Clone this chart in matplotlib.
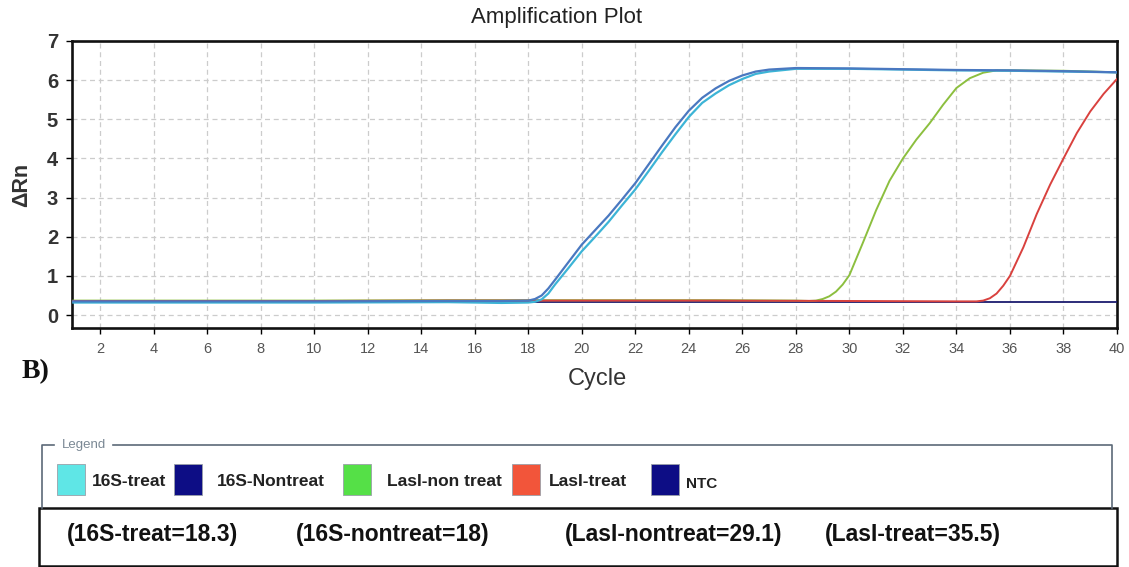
import matplotlib
matplotlib.use("Agg")
import matplotlib.pyplot as plt
from matplotlib.patches import Rectangle
from matplotlib.lines import Line2D

plt.rcParams['font.family'] = ['Liberation Sans', 'DejaVu Sans']

# ---- amplification data (cycle, delta Rn) ----
s16_nontreat_cycles = [1, 5, 10, 15, 17, 18, 18.25, 18.5, 18.75, 19, 19.5, 20, 20.5, 21, 21.5,
                       22, 22.5, 23, 23.5, 24, 24.5, 25, 25.5, 26, 26.5, 27, 28, 30, 32, 34,
                       36, 38, 40]
s16_nontreat_rn = [0.35, 0.35, 0.35, 0.36, 0.36, 0.37, 0.41, 0.50, 0.68, 0.90, 1.35, 1.80,
                   2.17, 2.54, 2.95, 3.37, 3.85, 4.33, 4.80, 5.22, 5.55, 5.79, 5.98, 6.12,
                   6.22, 6.27, 6.31, 6.30, 6.28, 6.26, 6.25, 6.23, 6.20]

s16_treat_cycles = s16_nontreat_cycles
s16_treat_rn = [0.32, 0.32, 0.32, 0.33, 0.31, 0.32, 0.34, 0.40, 0.55, 0.78, 1.20, 1.63, 2.00,
                2.38, 2.80, 3.21, 3.68, 4.16, 4.62, 5.06, 5.42, 5.66, 5.87, 6.03, 6.16, 6.22,
                6.29, 6.29, 6.27, 6.25, 6.24, 6.22, 6.20]

lasi_nontreat_cycles = [1, 5, 10, 15, 20, 25, 28, 28.5, 28.75, 29, 29.25, 29.5, 29.75, 30,
                        30.5, 31, 31.5, 32, 32.5, 33, 33.5, 34, 34.5, 35, 35.5, 36, 38, 40]
lasi_nontreat_rn = [0.37, 0.37, 0.37, 0.38, 0.38, 0.38, 0.37, 0.36, 0.37, 0.41, 0.48, 0.60,
                    0.78, 1.02, 1.84, 2.68, 3.43, 4.00, 4.48, 4.90, 5.37, 5.80, 6.05, 6.19,
                    6.25, 6.25, 6.24, 6.20]

lasi_treat_cycles = [1, 5, 10, 15, 20, 25, 30, 34, 34.75, 35, 35.25, 35.5, 35.75, 36, 36.5,
                     37, 37.5, 38, 38.5, 39, 39.5, 40]
lasi_treat_rn = [0.36, 0.36, 0.36, 0.37, 0.37, 0.37, 0.36, 0.35, 0.35, 0.37, 0.43, 0.55, 0.75,
                 1.00, 1.73, 2.58, 3.33, 4.00, 4.65, 5.20, 5.65, 6.03]

ntc_cycles = [1, 40]
ntc_rn = [0.34, 0.34]

# ---- legend entries and Ct values ----
legend_names = ['16S-treat', '16S-Nontreat', 'LasI-non treat', 'LasI-treat', 'NTC']
legend_swatch_colors = ['#5fe6e6', '#0d0d85', '#55e047', '#f2553a', '#0d0d85']
ct_names = ['16S-treat', '16S-nontreat', 'LasI-nontreat', 'LasI-treat']
ct_values = ['18.3', '18', '29.1', '35.5']

x_ticks = list(range(2, 41, 2))
y_ticks = list(range(0, 8))

W, H = 1129, 567
fig = plt.figure(figsize=(W / 100, H / 100), dpi=100)
fig.patch.set_facecolor('white')


def px_box(left, top, right, bottom):
    return [left / W, 1 - bottom / H, (right - left) / W, (bottom - top) / H]


ax = fig.add_axes(px_box(72, 41, 1117, 328))

ax.plot(ntc_cycles, ntc_rn, color='#1b1b6e', lw=1.3, zorder=3)
ax.plot(lasi_nontreat_cycles, lasi_nontreat_rn, color='#8cbf3f', lw=1.4, zorder=4)
ax.plot(lasi_treat_cycles, lasi_treat_rn, color='#d9413e', lw=1.4, zorder=5)
ax.plot(s16_treat_cycles, s16_treat_rn, color='#3cb4d6', lw=1.6, zorder=6)
ax.plot(s16_nontreat_cycles, s16_nontreat_rn, color='#4a78c0', lw=1.6, zorder=7)

ax.set_xlim(0.95, 40)
ax.set_ylim(-0.33, 7.0)
ax.set_xticks(x_ticks)
ax.set_yticks(y_ticks)
ax.grid(True, color='#cccccc', linestyle=(0, (4, 3)), lw=0.9)
ax.set_axisbelow(True)
for sp in ax.spines.values():
    sp.set_linewidth(1.9)
    sp.set_color('#111111')
ax.tick_params(axis='x', length=4, width=1, pad=6, labelsize=10.5, labelcolor='#555555')
ax.tick_params(axis='y', length=4, width=1, pad=6, labelsize=14.5, labelcolor='#333333')
for lab in ax.get_yticklabels():
    lab.set_fontweight('bold')

fig.text(557 / W, 1 - 17 / H, 'Amplification Plot', ha='center', va='center',
         fontsize=16, color='#222222')
fig.text(22 / W, 1 - 185 / H, 'ΔRn', ha='center', va='center', rotation=90,
         fontsize=15.5, fontweight='bold', color='#333333')
fig.text(597 / W, 1 - 379 / H, 'Cycle', ha='center', va='center', fontsize=17,
         color='#333333')
fig.text(36 / W, 1 - 372 / H, 'B)', ha='center', va='center', fontsize=20,
         fontweight='bold', family=['Liberation Serif', 'DejaVu Serif'], color='#111111')

# ---- legend panel drawn in pixel coordinates ----
lg = fig.add_axes([0, 0, 1, 1], zorder=10)
lg.set_xlim(0, W)
lg.set_ylim(H, 0)
lg.axis('off')
lg.patch.set_alpha(0)

frame_col = '#5c6a78'
lg.add_line(Line2D([42, 42, 54], [508, 445, 445], color=frame_col, lw=1.2))
lg.add_line(Line2D([113, 1112, 1112], [445, 445, 508], color=frame_col, lw=1.2))
lg.text(84, 445, 'Legend', ha='center', va='center', fontsize=9.5, color='#7a8894')

swatch_left = [57, 174, 343, 512, 651]
label_left = [92, 217, 387, 549, 686]
for i, name in enumerate(legend_names):
    lg.add_patch(Rectangle((swatch_left[i], 464), 28, 31,
                           facecolor=legend_swatch_colors[i], edgecolor='#9aa0a8', lw=0.6))
    lg.text(label_left[i], 481 if name != 'NTC' else 484, name, ha='left', va='center',
            fontsize=12.5 if name != 'NTC' else 11, fontweight='bold', color='#222222')

lg.add_patch(Rectangle((39, 508), 1078, 58, facecolor='white', edgecolor='#111111', lw=1.8))
ct_left = [67, 296, 565, 825]
for i, (nm, v) in enumerate(zip(ct_names, ct_values)):
    lg.text(ct_left[i], 534, f'({nm}={v})', ha='left', va='center', fontsize=16.5,
            fontweight='bold', color='#111111')

fig.savefig('out.png', dpi=100, facecolor='white')
